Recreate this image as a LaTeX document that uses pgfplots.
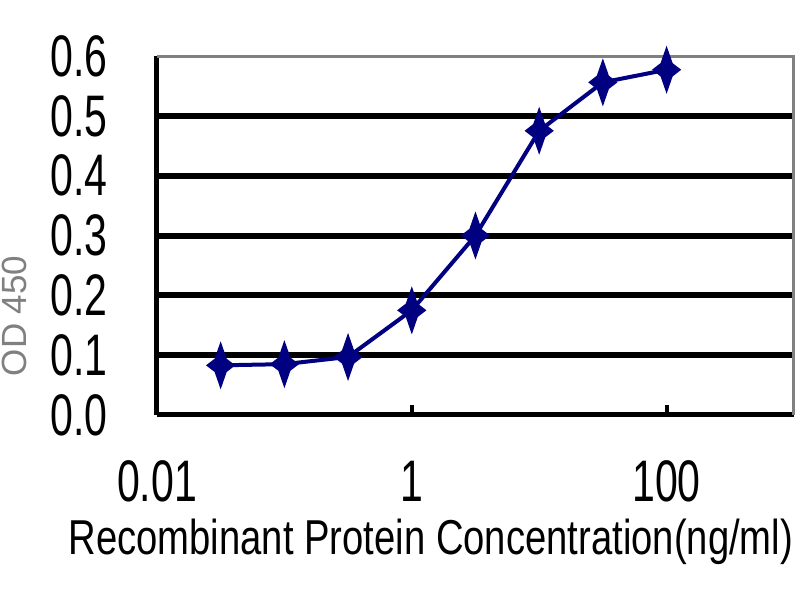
\documentclass[border=0pt]{standalone}
\usepackage{pgfplots}
\pgfplotsset{compat=1.18}
\usepackage{fontspec}
\setmainfont{Liberation Sans}
\newfontfamily\tickfont[FakeStretch=0.7]{Liberation Sans}
\newfontfamily\labfont[FakeStretch=0.78]{Liberation Sans}
\definecolor{navy}{RGB}{0,0,128}
\pgfdeclareplotmark{star4}{%
  \pgfpathmoveto{\pgfqpoint{0pt}{10.5pt}}%
  \pgfpathlineto{\pgfqpoint{2.6pt}{3pt}}%
  \pgfpathlineto{\pgfqpoint{6.5pt}{0pt}}%
  \pgfpathlineto{\pgfqpoint{2.6pt}{-3pt}}%
  \pgfpathlineto{\pgfqpoint{0pt}{-10.5pt}}%
  \pgfpathlineto{\pgfqpoint{-2.6pt}{-3pt}}%
  \pgfpathlineto{\pgfqpoint{-6.5pt}{0pt}}%
  \pgfpathlineto{\pgfqpoint{-2.6pt}{3pt}}%
  \pgfpathclose
  \pgfusepathqfillstroke}
\begin{document}
\begin{tikzpicture}
\begin{axis}[name=ax,
  scale only axis, width=318.5pt, height=179.5pt,
  xmode=log, xmin=0.01, xmax=1000, ymin=0, ymax=0.6,
  axis x line*=bottom, axis y line*=left,
  axis line style={black, line width=2.5pt, -},
  xtick={0.01,1,100}, xticklabels={0.01,1,100},
  minor xtick={}, 
  xtick style={black, line width=2pt},
  major tick length=5pt, tick align=inside,
  ytick={0,0.1,0.2,0.3,0.4,0.5,0.6},
  yticklabels={0.0,0.1,0.2,0.3,0.4,0.5,0.6},
  ytick style={draw=none},
  extra y ticks={0.1,0.2,0.3,0.4,0.5},
  extra y tick labels={},
  extra y tick style={ymajorgrids=true, major grid style={black, line width=3pt}, tick style={draw=none}},
  xticklabel style={font=\tickfont\fontsize{29.3}{30}\selectfont, anchor=base, yshift=-43.5pt, inner sep=0pt},
  yticklabel style={font=\tickfont\fontsize{29.3}{30}\selectfont, anchor=east, inner sep=0pt, xshift=-24.5pt},
  xlabel={Recombinant Protein Concentration(ng/ml)},
  xlabel style={font=\labfont\fontsize{24.5}{26}\selectfont, at={(axis description cs:0.43,0)}, anchor=base, yshift=-70pt, inner sep=0pt},
  ylabel={OD 450},
  ylabel style={font=\fontsize{17.5}{18}\selectfont, text=gray, at={(axis description cs:-0.223,0.276)}, anchor=center, rotate=0, inner sep=0pt},
  clip=false,
]
\draw[gray, line width=1.5pt] (rel axis cs:0,1) -- (rel axis cs:1,1) -- (rel axis cs:1,0);
\addplot[navy, line width=2pt, mark=star4, mark options={fill=navy, draw=navy, line width=1pt}]
  coordinates {
  (0.0316,0.083) (0.1,0.085) (0.316,0.097) (1,0.175)
  (3.16,0.30) (10,0.475) (31.6,0.556) (100,0.577)
  };
\end{axis}
\pgfresetboundingbox
\useasboundingbox (-78.5pt,-92.5pt) rectangle (321.5pt,207.5pt);
\end{tikzpicture}
\end{document}
